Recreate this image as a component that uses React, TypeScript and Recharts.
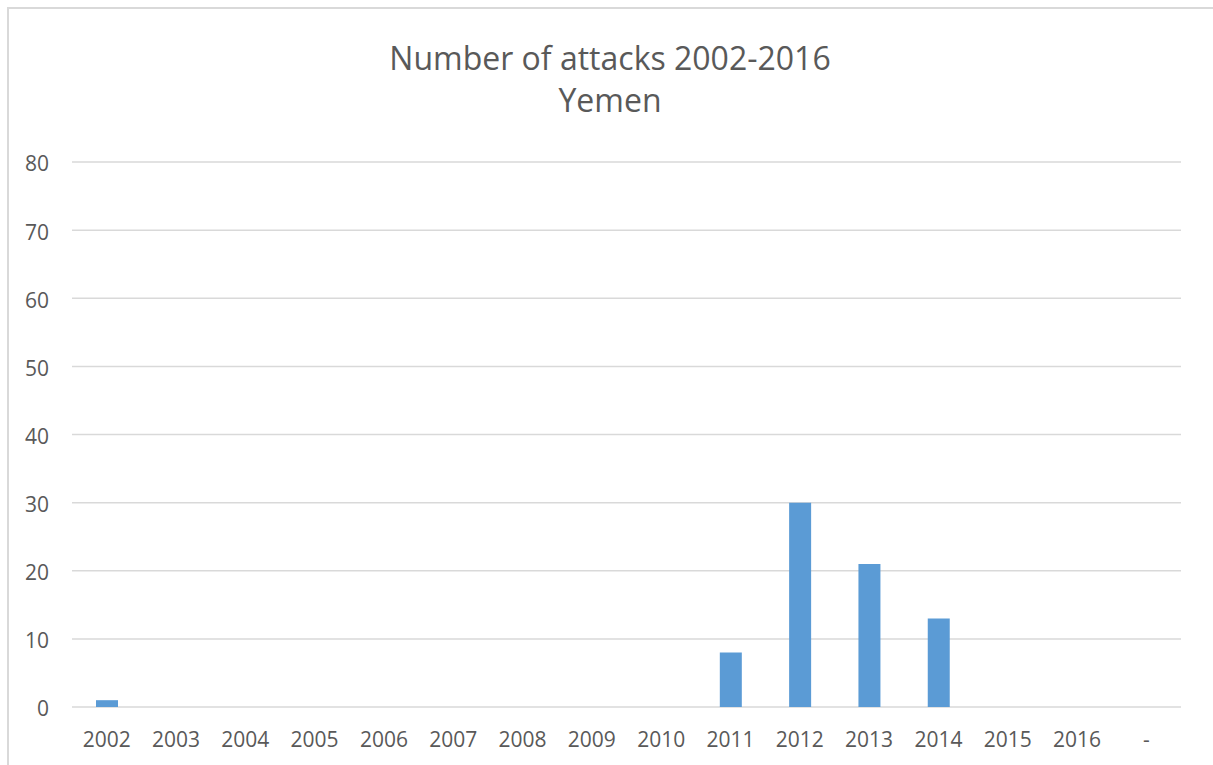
import React from 'react';
import { BarChart, Bar, XAxis, YAxis, CartesianGrid } from 'recharts';

const years = ['2002', '2003', '2004', '2005', '2006', '2007', '2008', '2009', '2010', '2011', '2012', '2013', '2014', '2015', '2016', '-'];
const attacks = [1, 0, 0, 0, 0, 0, 0, 0, 0, 8, 30, 21, 13, 0, 0, 0];
const yTicks = [0, 10, 20, 30, 40, 50, 60, 70, 80];

const data = years.map((year, i) => ({ year, attacks: attacks[i] }));

const FONT = '"Open Sans", "Liberation Sans", sans-serif';
const TEXT = '#595959';
const GRID = '#d9d9d9';

export default function App() {
  return (
    <div style={{ position: 'absolute', left: 0, top: 0, width: 1213, height: 765, overflow: 'hidden', background: '#fff', fontFamily: FONT }}>
      {/* chart frame, runs off the right and bottom edges */}
      <div style={{ position: 'absolute', left: 7, top: 7, width: 1220, height: 800, border: `2px solid ${GRID}`, boxSizing: 'border-box' }} />

      <div style={{ position: 'absolute', left: 0, top: 37, width: 1220, textAlign: 'center', color: TEXT, fontSize: 32, lineHeight: '42px' }}>
        <div>Number of attacks 2002-2016</div>
        <div>Yemen</div>
      </div>

      <div style={{ position: 'absolute', left: 0, top: 0 }}>
        <BarChart width={1213} height={765} data={data} margin={{ top: 162, right: 32, bottom: 0, left: 0 }}>
          <CartesianGrid vertical={false} stroke={GRID} strokeWidth={1.5} />
          <XAxis
            dataKey="year"
            axisLine={false}
            tickLine={false}
            tickSize={0}
            tickMargin={25}
            interval={0}
            height={58}
            tick={{ fontSize: 21, fill: TEXT, fontFamily: FONT }}
          />
          <YAxis
            domain={[0, 80]}
            ticks={yTicks}
            interval={0}
            axisLine={false}
            tickLine={false}
            tickSize={0}
            tickMargin={23}
            width={72}
            tick={{ fontSize: 21, fill: TEXT, fontFamily: FONT, dy: 2 }}
          />
          <Bar dataKey="attacks" fill="#5b9bd5" barSize={22} isAnimationActive={false} />
        </BarChart>
      </div>
    </div>
  );
}
